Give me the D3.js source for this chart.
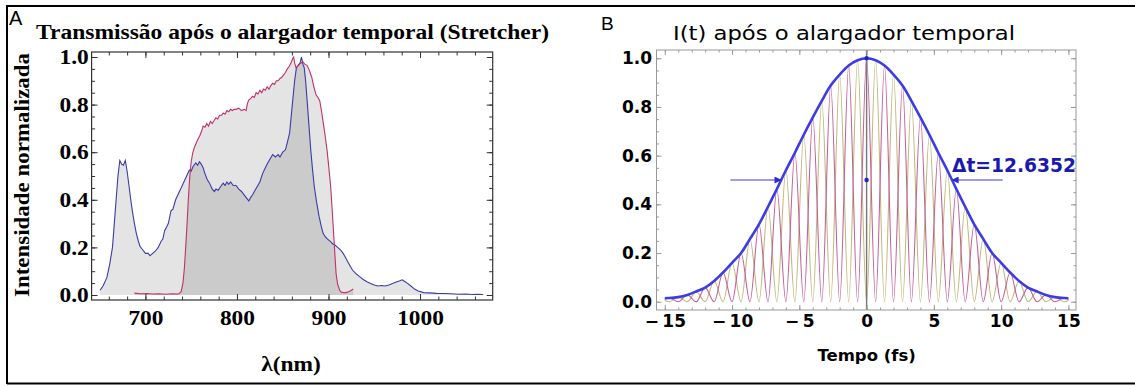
<!DOCTYPE html>
<html>
<head>
<meta charset="utf-8">
<script src="https://cdn.jsdelivr.net/npm/d3@7"></script>
<style>
  html, body { margin: 0; padding: 0; background: #fff; }
  svg { display: block; }
</style>
</head>
<body>
<svg id="fig" width="1135" height="386"></svg>
<script>
// Two-panel figure: stretcher transmission spectrum (A) and temporal intensity I(t) (B).

// ---- Panel A data: spectra ----
const WAVELENGTH_INPUT = [650.4, 654, 658, 661, 664, 666, 668, 670, 672, 674, 676, 678, 680, 682, 684, 686, 688, 690, 692, 694, 697, 700, 703, 705, 708, 711, 714, 717, 719, 721, 723, 725, 728, 730, 733, 736, 739, 742, 745, 748, 750, 752, 755, 757, 759, 761, 763, 765, 767.5, 770, 773, 775.4, 777, 779.5, 782, 785, 787, 789, 791, 793, 796, 799, 802, 805, 808, 811, 813, 815, 817, 819, 822, 825, 828, 831, 833, 836, 839, 842, 845, 847, 850, 853, 855, 857.5, 859, 861, 863, 865, 867, 869, 870.5, 872, 873.5, 875, 876.6, 878.5, 880.6, 882.5, 884.5, 887, 889.7, 892, 894, 896.4, 899, 902, 904.4, 907, 910, 913, 916, 918.3, 921, 924, 926.2, 930, 934, 938, 942, 946, 950, 954, 958, 962, 966, 970, 974, 978, 980.5, 983, 986, 990, 994, 998, 1004, 1010, 1018, 1026, 1034, 1042, 1050, 1057, 1063, 1069];
const INTENSITY_INPUT = [0.02, 0.04, 0.075, 0.13, 0.2, 0.3, 0.4, 0.5, 0.565, 0.55, 0.545, 0.565, 0.52, 0.46, 0.4, 0.345, 0.3, 0.26, 0.23, 0.205, 0.19, 0.175, 0.175, 0.165, 0.175, 0.185, 0.2, 0.225, 0.235, 0.27, 0.285, 0.3, 0.355, 0.36, 0.4, 0.425, 0.45, 0.475, 0.5, 0.525, 0.52, 0.54, 0.555, 0.545, 0.56, 0.55, 0.535, 0.51, 0.485, 0.47, 0.445, 0.435, 0.445, 0.44, 0.455, 0.47, 0.46, 0.475, 0.465, 0.475, 0.46, 0.46, 0.445, 0.435, 0.42, 0.405, 0.395, 0.41, 0.42, 0.435, 0.455, 0.475, 0.51, 0.535, 0.55, 0.57, 0.59, 0.58, 0.59, 0.58, 0.6, 0.61, 0.64, 0.68, 0.74, 0.82, 0.9, 0.955, 0.965, 0.975, 1.0, 0.97, 0.955, 0.9, 0.82, 0.72, 0.61, 0.53, 0.455, 0.39, 0.33, 0.29, 0.26, 0.245, 0.235, 0.225, 0.215, 0.21, 0.2, 0.19, 0.175, 0.16, 0.14, 0.12, 0.105, 0.09, 0.077, 0.065, 0.056, 0.048, 0.042, 0.038, 0.04, 0.038, 0.042, 0.048, 0.055, 0.06, 0.064, 0.058, 0.05, 0.038, 0.025, 0.017, 0.01, 0.009, 0.007, 0.006, 0.005, 0.003, 0.004, 0.002, 0.003, 0.002];

const WAVELENGTH_STRETCHED = [688, 695, 702, 708, 715, 722, 729, 736, 739, 741, 742.5, 744, 745.5, 747, 748.5, 750, 751.6, 753.5, 755.6, 757.5, 759.5, 761.5, 763, 765, 767, 769, 771, 773, 775.4, 777, 779, 781, 783.3, 785, 787, 789, 791, 793, 795, 797, 799, 802, 805, 808, 810, 811.5, 813, 815, 817, 819, 821, 823, 825, 827, 829, 831, 833, 835, 837, 839, 841, 843, 845, 847, 849, 851, 853, 855, 857, 859, 861, 862, 863, 864.5, 866, 868, 870, 872, 874, 876.6, 879, 881.7, 884, 886.5, 888.5, 890.5, 892.5, 894.4, 896.5, 898.4, 900.5, 902.4, 904, 905.6, 907, 908.3, 910, 912.3, 914, 916.3, 919, 922, 925, 927];
const INTENSITY_STRETCHED = [0.008, 0.005, 0.006, 0.004, 0.005, 0.003, 0.005, 0.004, 0.014, 0.05, 0.11, 0.2, 0.3, 0.41, 0.5, 0.56, 0.595, 0.62, 0.64, 0.655, 0.67, 0.69, 0.71, 0.705, 0.72, 0.71, 0.73, 0.72, 0.735, 0.745, 0.74, 0.755, 0.755, 0.765, 0.76, 0.775, 0.77, 0.78, 0.775, 0.78, 0.78, 0.785, 0.775, 0.78, 0.775, 0.805, 0.82, 0.825, 0.835, 0.83, 0.85, 0.845, 0.86, 0.85, 0.865, 0.86, 0.875, 0.865, 0.88, 0.89, 0.885, 0.9, 0.9, 0.91, 0.915, 0.925, 0.935, 0.95, 0.96, 0.975, 0.995, 1.0, 0.975, 0.955, 0.96, 0.97, 0.975, 0.98, 0.97, 0.965, 0.945, 0.915, 0.875, 0.84, 0.83, 0.815, 0.77, 0.72, 0.665, 0.61, 0.53, 0.455, 0.36, 0.26, 0.17, 0.09, 0.045, 0.02, 0.012, 0.01, 0.01, 0.014, 0.02, 0.025];

const A_X_TICKS = [700, 800, 900, 1000];
const A_Y_TICKS = [0, 0.2, 0.4, 0.6, 0.8, 1.0];

// ---- Panel B data: lobe positions (fs) and peak heights ----
const LOBE_TIME = [-15.33, -14.67, -14.0, -13.33, -12.67, -12.0, -11.33, -10.67, -10.0, -9.33, -8.67, -8.0, -7.33, -6.67, -6.0, -5.33, -4.67, -4.0, -3.33, -2.67, -2.0, -1.33, -0.67, 0, 0.67, 1.33, 2.0, 2.67, 3.33, 4.0, 4.67, 5.33, 6.0, 6.67, 7.33, 8.0, 8.67, 9.33, 10.0, 10.67, 11.33, 12.0, 12.67, 13.33, 14.0, 14.67, 15.33];
const LOBE_PEAK = [0.014, 0.015, 0.019, 0.028, 0.042, 0.058, 0.085, 0.12, 0.16, 0.2, 0.258, 0.318, 0.39, 0.463, 0.54, 0.612, 0.686, 0.757, 0.825, 0.888, 0.933, 0.97, 0.992, 1.0, 0.992, 0.97, 0.933, 0.888, 0.825, 0.757, 0.686, 0.612, 0.54, 0.463, 0.39, 0.318, 0.258, 0.2, 0.16, 0.12, 0.085, 0.058, 0.042, 0.028, 0.019, 0.015, 0.014];
const FWHM_LABEL = "\u0394t=12.6352";
const HALF_MAX_T = [-6.32, 6.32];
const B_X_TICKS = [-15, -10, -5, 0, 5, 10, 15];
const B_Y_TICKS = [0, 0.2, 0.4, 0.6, 0.8, 1.0];

const SERIF = "'Liberation Serif', 'Times New Roman', serif";
const SANS = "'DejaVu Sans', Verdana, sans-serif";

const svg = d3.select("#fig");

// outer frame (left, top, bottom edges only)
svg.append("path")
  .attr("d", "M7,384 L7,6 L1135,6 M7,383.5 L1135,383.5")
  .attr("fill", "none").attr("stroke", "#000").attr("stroke-width", 2);

// ---------------- Panel A ----------------
const xA = d3.scaleLinear().domain([641.2, 1079.4]).range([91.6, 492.7]);
const yA = d3.scaleLinear().domain([-0.021, 1.021]).range([300, 52]);
const STRETCH = 1.17; // panel A text is horizontally wide in the source

const gA = svg.append("g").attr("class", "panel-a");

function seriesA(xs, ys) { return xs.map((x, i) => ({ x, y: ys[i] })); }
const inputData = seriesA(WAVELENGTH_INPUT, INTENSITY_INPUT);
const stretchedData = seriesA(WAVELENGTH_STRETCHED, INTENSITY_STRETCHED);

const areaA = d3.area().x(d => xA(d.x)).y0(yA(0)).y1(d => yA(d.y));
const lineA = d3.line().x(d => xA(d.x)).y(d => yA(d.y));

[inputData, stretchedData].forEach(data => {
  gA.append("path").attr("d", areaA(data))
    .attr("fill", "#000").attr("fill-opacity", 0.105);
});
gA.append("path").attr("d", lineA(inputData))
  .attr("fill", "none").attr("stroke", "#3b3ba6").attr("stroke-width", 1.1);
gA.append("path").attr("d", lineA(stretchedData))
  .attr("fill", "none").attr("stroke", "#c0306c").attr("stroke-width", 1.1);

// Mathematica-style frame: inward major + minor ticks on all four sides, labels bottom/left
function drawFrame(g, x, y, o) {
  const [x0, x1] = x.range();
  const [y0, y1] = y.range();
  const minorX = d3.range(o.xMinor[0], o.xMinor[1] + 1e-9, o.xMinor[2]);
  const minorY = d3.range(o.yMinor[0], o.yMinor[1] + 1e-9, o.yMinor[2]);
  const sides = [
    { ax: d3.axisBottom(x), t: `translate(0,${y0})`, ticks: o.xTicks, minor: minorX, fmt: o.xFmt },
    { ax: d3.axisTop(x), t: `translate(0,${y1})`, ticks: o.xTicks, minor: minorX, fmt: null },
    { ax: d3.axisLeft(y), t: `translate(${x0},0)`, ticks: o.yTicks, minor: minorY, fmt: o.yFmt },
    { ax: d3.axisRight(y), t: `translate(${x1},0)`, ticks: o.yTicks, minor: minorY, fmt: null }
  ];
  sides.forEach(s => {
    const gm = g.append("g").attr("transform", s.t)
      .call(s.ax.tickValues(s.minor).tickSize(-o.minorLen).tickFormat(""));
    gm.select(".domain").remove();
    gm.selectAll("line").attr("stroke", o.color);
    const ga = g.append("g").attr("transform", s.t)
      .call(s.ax.tickValues(s.ticks).tickSize(-o.majorLen).tickPadding(o.pad)
        .tickFormat(s.fmt || (() => "")));
    ga.select(".domain").remove();
    ga.selectAll("line").attr("stroke", o.color);
    ga.selectAll("text").attr("fill", "#000").style("font-family", o.font)
      .style("font-size", o.fontSize + "px").style("font-weight", "bold");
    s.group = ga;
  });
  g.append("rect")
    .attr("x", x0).attr("y", y1).attr("width", x1 - x0).attr("height", y0 - y1)
    .attr("fill", "none").attr("stroke", o.color).attr("stroke-width", o.frameWidth);
  return sides;
}

const sidesA = drawFrame(gA, xA, yA, {
  xTicks: A_X_TICKS, yTicks: A_Y_TICKS,
  xMinor: [660, 1060, 20], yMinor: [0, 1, 0.05],
  majorLen: 6, minorLen: 3.5, pad: 3, color: "#333", frameWidth: 1.2,
  font: SERIF, fontSize: 20,
  xFmt: d3.format("d"), yFmt: d3.format(".1f")
});
sidesA[0].group.selectAll("text")
  .attr("dy", null).attr("y", 25)
  .attr("transform", `scale(${STRETCH},1)`);
sidesA[2].group.selectAll("text")
  .attr("x", -2.5)
  .attr("dy", "0.33em")
  .attr("transform", `scale(${STRETCH},1)`);

gA.append("text")
  .attr("x", 36).attr("y", 38.5)
  .attr("textLength", 513).attr("lengthAdjust", "spacingAndGlyphs")
  .style("font-family", SERIF).style("font-size", "20px").style("font-weight", "bold")
  .text("Transmissão após o alargador temporal (Stretcher)");

gA.append("text")
  .attr("transform", "translate(29,175) rotate(-90)")
  .attr("text-anchor", "middle")
  .attr("textLength", 244).attr("lengthAdjust", "spacingAndGlyphs")
  .style("font-family", SERIF).style("font-size", "21px").style("font-weight", "bold")
  .text("Intensidade normalizada");

gA.append("text")
  .attr("transform", `translate(291,371) scale(${STRETCH},1)`)
  .attr("text-anchor", "middle")
  .style("font-family", SERIF).style("font-size", "20px").style("font-weight", "bold")
  .text("λ(nm)");

svg.append("text").attr("x", 9).attr("y", 25)
  .style("font-family", "'Liberation Sans', Arial, sans-serif").style("font-size", "20px")
  .text("A");

// ---------------- Panel B ----------------
const xB = d3.scaleLinear().domain([-15.617, 15.565]).range([656.5, 1076]);
const yB = d3.scaleLinear().domain([-0.034, 1.034]).range([310, 50]);

const gB = svg.append("g").attr("class", "panel-b");

gB.append("clipPath").attr("id", "clip-b")
  .append("rect")
  .attr("x", xB(-15)).attr("y", yB.range()[1])
  .attr("width", xB(15) - xB(-15)).attr("height", yB.range()[0] - yB.range()[1]);

const lobes = LOBE_TIME.map((t, i) => ({ t, peak: LOBE_PEAK[i], even: Math.round(t / 0.6667) % 2 === 0 }));
// each carrier curve peaks on its own lobes and touches zero on the other curve's lobes
const magentaPts = lobes.map(d => ({ t: d.t, v: d.even ? d.peak : 0 }));
const olivePts = lobes.map(d => ({ t: d.t, v: d.even ? 0 : d.peak }));

const lineB = d3.line().x(d => xB(d.t)).y(d => yB(d.v)).curve(d3.curveMonotoneX);
const envelopeLine = d3.line().x(d => xB(d.t)).y(d => yB(d.v)).curve(d3.curveCatmullRom);
const plotB = gB.append("g").attr("clip-path", "url(#clip-b)");

plotB.append("path").attr("d", lineB(olivePts))
  .attr("fill", "none").attr("stroke", "#c2b87a").attr("stroke-width", 1.1);
plotB.append("path").attr("d", lineB(magentaPts))
  .attr("fill", "none").attr("stroke", "#c4609c").attr("stroke-width", 1.1);
plotB.append("path").attr("d", envelopeLine(lobes.map(d => ({ t: d.t, v: d.peak }))))
  .attr("fill", "none").attr("stroke", "#3c3ce6").attr("stroke-width", 2.6);

gB.append("line")
  .attr("x1", xB(0)).attr("x2", xB(0)).attr("y1", yB.range()[1]).attr("y2", yB.range()[0])
  .attr("stroke", "#777").attr("stroke-width", 1.4);

gB.selectAll("circle.marker")
  .data([1.0, 0.5])
  .join("circle")
    .attr("class", "marker")
    .attr("cx", xB(0)).attr("cy", d => yB(d)).attr("r", 2.2)
    .attr("fill", "#2222cc");

drawFrame(gB, xB, yB, {
  xTicks: B_X_TICKS, yTicks: B_Y_TICKS,
  xMinor: [-15, 15, 1], yMinor: [0, 1, 0.05],
  majorLen: 5, minorLen: 2.5, pad: 4.5, color: "#999", frameWidth: 1,
  font: SANS, fontSize: 17,
  xFmt: d => d < 0 ? "\u2212\u2009" + Math.abs(d) : String(d),
  yFmt: d3.format(".1f")
});

// arrows marking the half maximum
const defs = svg.append("defs");
defs.append("marker").attr("id", "arrowhead")
  .attr("viewBox", "0 0 10 10").attr("refX", 10).attr("refY", 5)
  .attr("markerWidth", 11).attr("markerHeight", 7).attr("markerUnits", "userSpaceOnUse")
  .attr("orient", "auto")
  .append("path").attr("d", "M0,0 L10,5 L0,10 z").attr("fill", "#2a2ad0");

const arrowLen = 3.8;
HALF_MAX_T.forEach(t => {
  const dir = t < 0 ? -1 : 1;
  gB.append("line")
    .attr("x1", xB(t + dir * arrowLen)).attr("x2", xB(t))
    .attr("y1", yB(0.5)).attr("y2", yB(0.5))
    .attr("stroke", "#3a3ae0").attr("stroke-width", 1.2)
    .attr("marker-end", "url(#arrowhead)");
});

gB.append("text")
  .attr("x", 952).attr("y", 172)
  .attr("textLength", 124).attr("lengthAdjust", "spacingAndGlyphs")
  .attr("fill", "#1a1ab0")
  .style("font-family", SANS).style("font-size", "19px").style("font-weight", "bold")
  .text(FWHM_LABEL);

gB.append("text")
  .attr("x", 673).attr("y", 40)
  .attr("textLength", 342).attr("lengthAdjust", "spacingAndGlyphs")
  .style("font-family", SANS).style("font-size", "20px")
  .text("I(t) após o alargador temporal");

gB.append("text")
  .attr("x", xB(0)).attr("y", 361)
  .attr("text-anchor", "middle")
  .style("font-family", SANS).style("font-size", "16.5px").style("font-weight", "bold")
  .text("Tempo (fs)");

svg.append("text").attr("x", 601).attr("y", 30)
  .style("font-family", "'Liberation Sans', Arial, sans-serif").style("font-size", "19px")
  .text("B");
</script>
</body>
</html>
